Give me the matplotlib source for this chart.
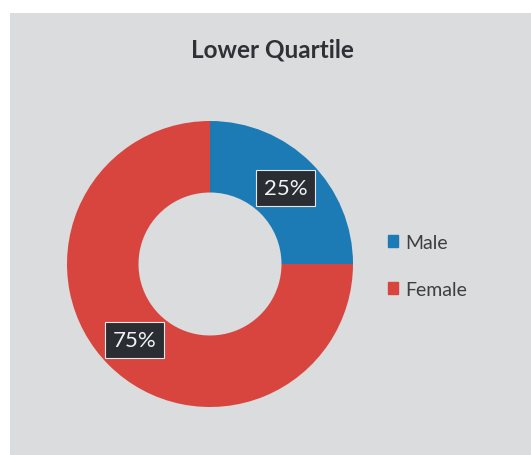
import numpy as np
import matplotlib.pyplot as plt
import matplotlib.patches as mpatches

# data
labels = ['Male', 'Female']
shares = [25, 75]
colors = ['#1c7ab5', '#d8453e']
title = 'Lower Quartile'

plt.rcParams['font.family'] = ['Lato', 'DejaVu Sans']

fig = plt.figure(figsize=(5.31, 4.56), dpi=100, facecolor='white')

# grey chart panel (photo has white margin top/left)
bg = fig.add_axes([10 / 531, 0, 1 - 10 / 531, 1 - 14 / 456])
bg.set_facecolor('#dadcdd')
bg.set_xticks([])
bg.set_yticks([])
for s in bg.spines.values():
    s.set_visible(False)

fig.text(272 / 531, 1 - 50 / 456, title, ha='center', va='center',
         fontsize=17.5, fontweight='bold', color='#2e3236')

# donut
L = 1.1
S = 2 * 143 * L
cx, cy = 210, 265
ax = fig.add_axes([(cx - S / 2) / 531, (456 - cy - S / 2) / 456, S / 531, S / 456])
ax.set_facecolor('none')
wedges, _ = ax.pie(shares, colors=colors, startangle=90, counterclock=False,
                   radius=1, wedgeprops=dict(width=0.5, edgecolor='none'))
ax.set_xlim(-L, L)
ax.set_ylim(-L, L)
ax.set_aspect('equal')
ax.axis('off')

for w, v in zip(wedges, shares):
    ang = np.deg2rad((w.theta1 + w.theta2) / 2)
    ax.text(0.75 * np.cos(ang), 0.75 * np.sin(ang), f'{v}%', ha='center', va='center',
            fontsize=16, color='#f2f2f2',
            bbox=dict(boxstyle='square,pad=0.35', fc='#2a2e32', ec='#e8e8e8', lw=0.8))

handles = [mpatches.Patch(color=c, label=l) for c, l in zip(colors, labels)]
fig.legend(handles=handles, loc='center left', bbox_to_anchor=(370 / 531, 1 - 267 / 456),
           frameon=False, fontsize=14, labelcolor='#3c3f42', handlelength=0.55,
           handleheight=0.55, handletextpad=0.35, labelspacing=1.55)

fig.savefig('out.png', dpi=100, facecolor='white')
